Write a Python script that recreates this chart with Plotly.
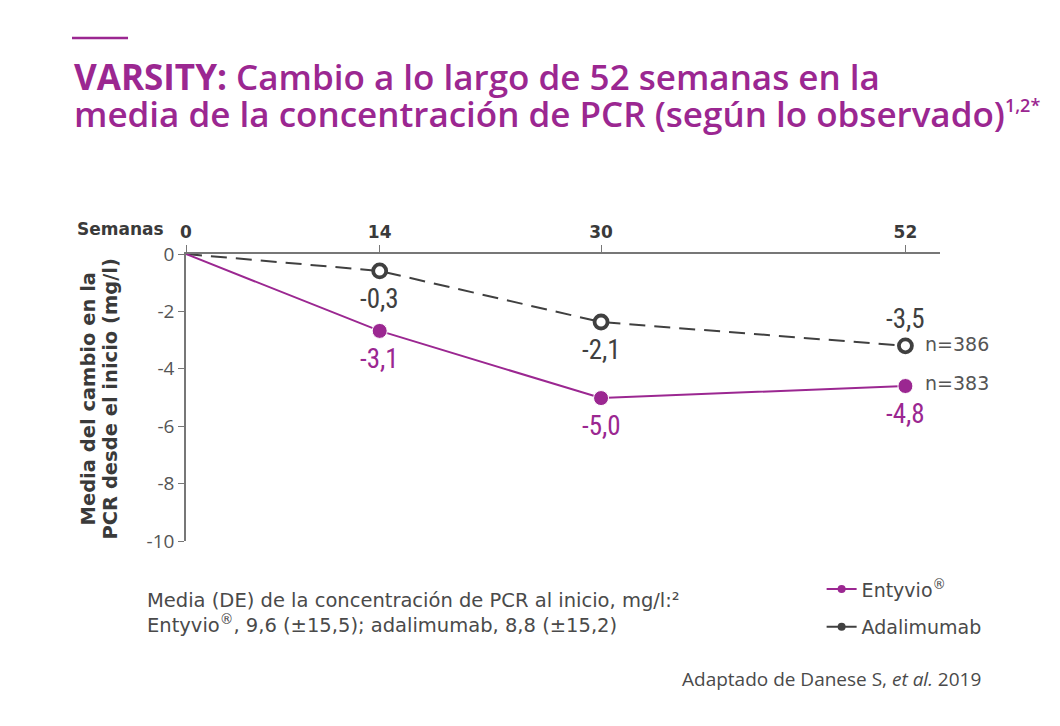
import plotly.graph_objects as go

weeks = [0, 14, 30, 52]
entyvio = [0, -2.68, -5.02, -4.6]
adalimumab = [0, -0.59, -2.37, -3.2]
entyvio_labels = ["", "-3,1", "-5,0", "-4,8"]
adalimumab_labels = ["", "-0,3", "-2,1", "-3,5"]
y_ticks = [0, -2, -4, -6, -8, -10]
x_ticks = [0, 14, 30, 52]
n_labels = ["n=386", "n=383"]

PURPLE = "#9B2791"
DARK = "#404040"
TXT = "#3a3a3a"
GRAY = "#4a4a4a"
SANS = "Open Sans, sans-serif"
WIDE = "DejaVu Sans, sans-serif"

fig = go.Figure()

fig.add_trace(go.Scatter(
    x=weeks, y=adalimumab, mode="lines+markers", showlegend=False,
    line=dict(color=DARK, width=2, dash="16px,9px"),
    marker=dict(symbol="circle", size=[0, 13, 13, 13], color="white", opacity=1,
                line=dict(width=3.8, color=DARK)),
))
fig.add_trace(go.Scatter(
    x=weeks, y=entyvio, mode="lines+markers", showlegend=False,
    line=dict(color=PURPLE, width=2),
    marker=dict(size=[0, 15, 15, 15], color=PURPLE, opacity=1),
))
# legend-only traces
fig.add_trace(go.Scatter(x=[None], y=[None], mode="lines+markers", name="Entyvio<sup>®</sup>", legendgroup="a",
                         line=dict(color=PURPLE, width=2), marker=dict(size=8, color=PURPLE)))
fig.add_trace(go.Scatter(x=[None], y=[None], mode="lines+markers", name="Adalimumab", legendgroup="b",
                         line=dict(color=DARK, width=2), marker=dict(size=8, color=DARK)))

label_font = dict(family="Roboto Condensed, Liberation Sans Narrow, Open Sans, sans-serif", size=27)


def cond(t):
    return f"<span style='font-stretch:75%'>{t}</span>"


# Data labels
for x, y, t in zip(weeks, adalimumab, adalimumab_labels):
    if not t:
        continue
    shift = 27 if x == 52 else -28
    fig.add_annotation(x=x, y=y, text=cond(t), showarrow=False, yshift=shift,
                       font=dict(color=DARK, **label_font))
for x, y, t in zip(weeks, entyvio, entyvio_labels):
    if not t:
        continue
    fig.add_annotation(x=x, y=y, text=cond(t), showarrow=False, yshift=-28,
                       font=dict(color=PURPLE, **label_font))
# n labels
fig.add_annotation(x=weeks[-1], y=adalimumab[-1], text=n_labels[0], showarrow=False,
                   xanchor="left", xshift=18, yshift=2, font=dict(family=WIDE, size=19, color="#555"))
fig.add_annotation(x=weeks[-1], y=entyvio[-1], text=n_labels[1], showarrow=False,
                   xanchor="left", xshift=18, yshift=3, font=dict(family=WIDE, size=19, color="#555"))

# Semanas label
fig.add_annotation(xref="paper", yref="paper", x=0, y=1, xshift=-20, yshift=25, text="<b>Semanas</b>",
                   showarrow=False, xanchor="right", yanchor="middle",
                   font=dict(family=WIDE, size=17, color=TXT))

# Y axis title (two lines)
for txt, xs in [("<b>Media del cambio en la</b>", -98), ("<b>PCR desde el inicio (mg/l)</b>", -76)]:
    fig.add_annotation(xref="paper", yref="paper", x=0, y=0.5, xshift=xs, yshift=-2,
                       text=txt, textangle=-90, showarrow=False, xanchor="center", yanchor="middle",
                       font=dict(family=WIDE, size=19.5, color=TXT))

# Title (two lines)
fig.add_annotation(xref="paper", yref="paper", x=-0.1512, y=1.0, yshift=178, xanchor="left", yanchor="middle",
                   align="left", showarrow=False,
                   text="<b>VARSITY:</b> Cambio a lo largo de 52 semanas en la",
                   font=dict(family=SANS, size=35, color=PURPLE, weight=600))
fig.add_annotation(xref="paper", yref="paper", x=-0.1512, y=1.0, yshift=141, xanchor="left", yanchor="middle",
                   align="left", showarrow=False,
                   text="media de la concentración de PCR (según lo observado)<sup><span style='font-size:18px'>1,2*</span></sup>",
                   font=dict(family=SANS, size=35, color=PURPLE, weight=600))
fig.add_shape(type="line", xref="paper", yref="paper", x0=-0.1512, x1=-0.0769,
              y0=1 + 216 / 287, y1=1 + 216 / 287, line=dict(color=PURPLE, width=2.5))

# Footnote
fig.add_annotation(xref="paper", yref="paper", x=-0.054, y=0, yshift=-72, xanchor="left", yanchor="middle",
                   align="left", showarrow=False,
                   text="Media (DE) de la concentración de PCR al inicio, mg/l:²<br>Entyvio<sup>®</sup>, 9,6 (±15,5); adalimumab, 8,8 (±15,2)",
                   font=dict(family=WIDE, size=19.5, color=GRAY))
fig.add_annotation(xref="paper", yref="paper", x=1.057, y=0, yshift=-138, xanchor="right", yanchor="middle",
                   showarrow=False,
                   text="Adaptado de Danese S, <i>et al.</i> 2019",
                   font=dict(family=SANS, size=19, color=GRAY))

fig.update_layout(
    width=1060, height=726,
    margin=dict(l=186, r=120, t=254, b=185),
    plot_bgcolor="white", paper_bgcolor="white",
    showlegend=True,
    legend=dict(x=0.843, y=-0.102, xanchor="left", yanchor="top", bgcolor="rgba(0,0,0,0)",
                font=dict(family=WIDE, size=19, color=GRAY),
                traceorder="grouped", tracegroupgap=10, itemwidth=30),
    xaxis=dict(range=[0, 54.5], side="top", tickvals=x_ticks, ticktext=[f"<b>{v}</b>" for v in x_ticks],
               showgrid=False, zeroline=False, showline=True, linecolor="#777", linewidth=1.5,
               ticks="outside", ticklen=7, tickcolor="#777",
               tickfont=dict(family=WIDE, size=17, color=TXT)),
    yaxis=dict(range=[-10, 0], tickvals=y_ticks, ticktext=[str(v) for v in y_ticks],
               showgrid=False, zeroline=False, showline=True, linecolor="#777", linewidth=1.5,
               ticks="outside", ticklen=6, tickcolor="#777",
               tickfont=dict(family=SANS, size=19, color="#555")),
)

fig.write_html("out.html")
